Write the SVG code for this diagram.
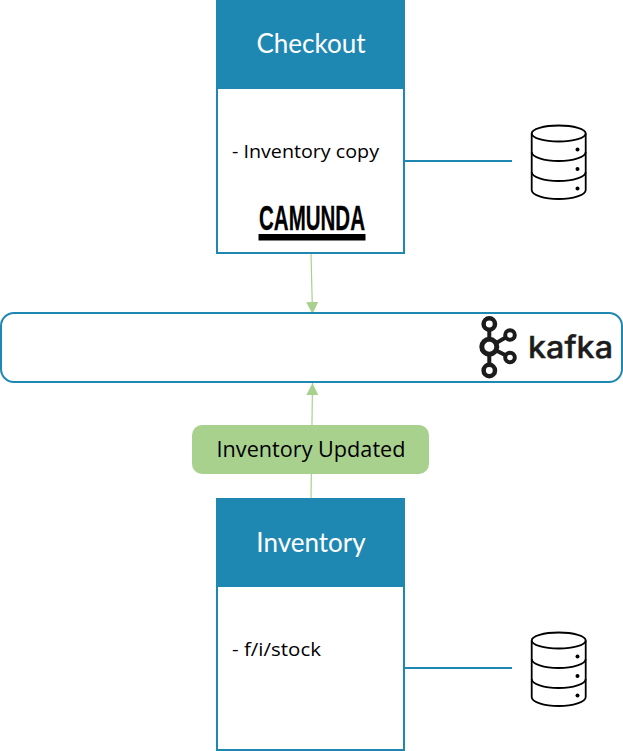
<svg xmlns="http://www.w3.org/2000/svg" width="623" height="751" viewBox="0 0 623 751">
  <style>
    .box { fill: #fff; stroke: #1F88B2; stroke-width: 2; }
    .head { fill: #1F88B2; }
    .title { font-family: Lato, "Open Sans", sans-serif; font-size: 26px; fill: #fff; text-anchor: middle; }
    .body { font-family: "Open Sans", "Noto Sans", sans-serif; font-size: 19px; fill: #000; }
    .link { stroke: #1F88B2; stroke-width: 2; fill: none; }
    .flow { stroke: #A9D18E; stroke-width: 1.2; fill: none; marker-end: url(#arrow); }
    .db { fill: none; stroke: #000; stroke-width: 1.8; }
    .dot { fill: #000; }
    .ring { fill: #fff; stroke: #1c1c1c; }
  </style>
  <defs>
    <marker id="arrow" markerUnits="userSpaceOnUse" markerWidth="13" markerHeight="13" refX="12" refY="6.5" orient="auto">
      <path d="M0 0.5 L12 6.5 L0 12.5 Z" fill="#A9D18E"/>
    </marker>
    <g id="database">
      <ellipse class="db" cx="558.700" cy="133.500" rx="27" ry="8"/>
      <path class="db" d="M531.700 133.500 V190 C531.700 195 544 199 558.700 199 C573 199 585.700 195 585.700 190 V133.500"/>
      <path class="db" d="M531.700 152 C531.700 157 544 161 558.700 161 C573 161 585.700 157 585.700 152"/>
      <path class="db" d="M531.700 172 C531.700 177 544 181 558.700 181 C573 181 585.700 177 585.700 172"/>
      <circle class="dot" cx="577.500" cy="149.500" r="2"/>
      <circle class="dot" cx="577.500" cy="169" r="2"/>
      <circle class="dot" cx="577.500" cy="188.500" r="2"/>
    </g>
  </defs>
  <rect width="623" height="751" fill="#fff"/>

  <g id="connectors">
    <path class="link" d="M404 161 H512"/>
    <path class="link" d="M404 668 H512"/>
    <path class="flow" d="M311 253 L312.500 314"/>
    <path class="flow" d="M311 499 L312.500 383"/>
  </g>

  <g id="checkout">
    <rect class="box" x="217" y="-2" width="187" height="255"/>
    <rect class="head" x="216" y="0" width="189" height="89"/>
    <text class="title" x="311" y="53">Checkout</text>
    <text class="body" x="232" y="158" textLength="147" lengthAdjust="spacingAndGlyphs">- Inventory copy</text>
    <text x="312" y="230" font-family="'Liberation Sans', sans-serif" font-weight="700" font-size="35" fill="#000" stroke="#000" stroke-width="0.3" text-anchor="middle" textLength="106" lengthAdjust="spacingAndGlyphs">CAMUNDA</text>
    <rect x="258.500" y="234" width="107" height="6.500" fill="#000"/>
  </g>

  <g id="kafka">
    <rect class="box" x="1" y="313" width="621" height="69" rx="13" ry="13"/>
    <g>
      <path d="M489.300 329 V366 M489.300 347 L510 335 M489.300 347 L510 357.500" stroke="#1c1c1c" stroke-width="4" fill="none"/>
      <circle class="ring" cx="489.300" cy="324" r="5.700" stroke-width="4.500"/>
      <circle class="ring" cx="489.300" cy="346.700" r="7.500" stroke-width="5"/>
      <circle class="ring" cx="489.300" cy="370.500" r="5.700" stroke-width="4.500"/>
      <circle class="ring" cx="510" cy="335" r="4.800" stroke-width="4"/>
      <circle class="ring" cx="510" cy="357.500" r="4.800" stroke-width="4"/>
    </g>
    <text x="528" y="357.500" font-family="Inter, 'Open Sans', sans-serif" font-weight="500" font-size="30" fill="#1c1c1c" stroke="#1c1c1c" stroke-width="0.4" textLength="85" lengthAdjust="spacingAndGlyphs">kafka</text>
  </g>

  <g id="inventory-updated">
    <rect x="192" y="425" width="237" height="49" rx="10" ry="10" fill="#A9D18E"/>
    <text x="311" y="457" font-family="'Open Sans', 'Noto Sans', sans-serif" font-size="21" fill="#000" text-anchor="middle" textLength="189" lengthAdjust="spacingAndGlyphs">Inventory Updated</text>
  </g>

  <g id="inventory">
    <rect class="box" x="217" y="499" width="187" height="251"/>
    <rect class="head" x="216" y="498" width="189" height="89"/>
    <text class="title" x="311" y="551.500">Inventory</text>
    <text class="body" x="232" y="655.500" textLength="89" lengthAdjust="spacingAndGlyphs">- f/i/stock</text>
  </g>

  <g id="checkout-db"><use href="#database"/></g>
  <g id="inventory-db"><use href="#database" y="507"/></g>
</svg>
